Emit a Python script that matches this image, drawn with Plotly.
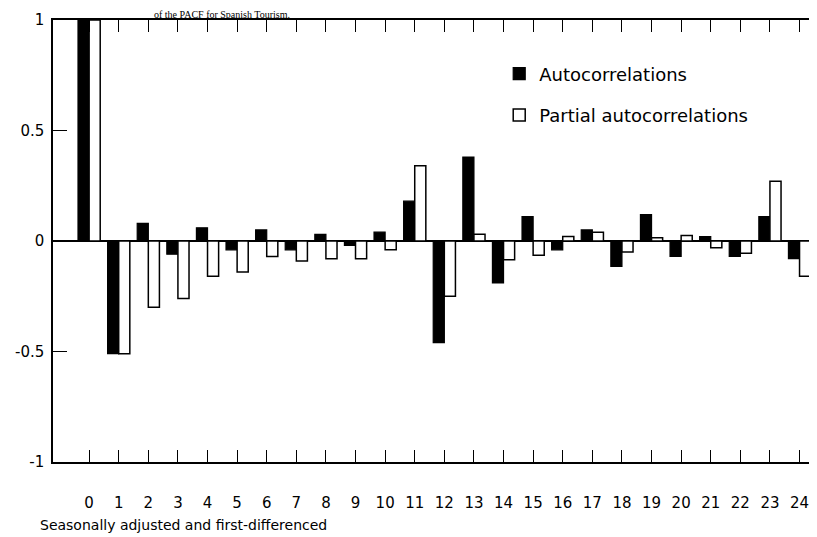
import plotly.graph_objects as go

lags = list(range(25))
acf = [1.0, -0.51, 0.08, -0.06, 0.06, -0.04, 0.05, -0.04, 0.03, -0.02, 0.04, 0.18,
       -0.46, 0.38, -0.19, 0.11, -0.04, 0.05, -0.115, 0.12, -0.07, 0.02, -0.07, 0.11, -0.08]
pacf = [1.0, -0.51, -0.30, -0.26, -0.16, -0.14, -0.07, -0.09, -0.08, -0.08, -0.04, 0.34,
        -0.25, 0.03, -0.085, -0.065, 0.02, 0.04, -0.05, 0.015, 0.025, -0.03, -0.055, 0.27, -0.16]
y_ticks = [1, 0.5, 0, -0.5, -1]
y_labels = ["1", "0.5", "0", "-0.5", "-1"]

FONT = "DejaVu Sans"

fig = go.Figure()
fig.add_trace(go.Bar(x=lags, y=acf, name="Autocorrelations",
                     marker=dict(color="black", line=dict(color="black", width=1.2)),
                     legendgroup="a"))
fig.add_trace(go.Bar(x=lags, y=pacf, name="Partial autocorrelations",
                     marker=dict(color="white", line=dict(color="black", width=1.5)),
                     legendgroup="b"))

fig.update_layout(
    width=817, height=537,
    margin=dict(l=45, r=0, t=12, b=83),
    paper_bgcolor="white", plot_bgcolor="white",
    barmode="group", bargap=0.25, bargroupgap=0,
    font=dict(family=FONT, color="black", size=14),
    legend=dict(x=0.578, y=0.92, xanchor="left", yanchor="top",
                font=dict(family=FONT, size=18), bgcolor="rgba(0,0,0,0)",
                traceorder="grouped", tracegroupgap=15),
    xaxis=dict(range=[-1.22, 24.86], tickmode="array", tickvals=lags,
               ticktext=[str(v) for v in lags],
               ticks="inside", ticklen=12, tickwidth=1.2, tickcolor="black",
               showline=True, linecolor="black", linewidth=1.5, mirror="ticks",
               showgrid=False, zeroline=False, ticklabelstandoff=26,
               tickfont=dict(family=FONT, size=15)),
    yaxis=dict(range=[-1, 1], tickmode="array", tickvals=y_ticks, ticktext=y_labels,
               ticks="inside", ticklen=14, tickwidth=1.2, tickcolor="black",
               showline=True, linecolor="black", linewidth=1.5,
               showgrid=False, zeroline=True, zerolinecolor="black", zerolinewidth=1.5,
               ticklabelstandoff=4, tickfont=dict(family=FONT, size=15)),
)

fig.add_annotation(text="of the PACF for Spanish Tourism.", xref="paper", yref="paper",
                   x=0.13, y=1.027, xanchor="left", yanchor="top", showarrow=False,
                   borderpad=0, font=dict(family="Liberation Serif", size=10, color="black"))
fig.add_annotation(text="Seasonally adjusted and first-differenced", xref="paper", yref="paper",
                   x=-0.02, y=-0.143, xanchor="left", yanchor="middle", showarrow=False,
                   font=dict(family=FONT, size=14, color="black"))

fig.write_html("out.html")
